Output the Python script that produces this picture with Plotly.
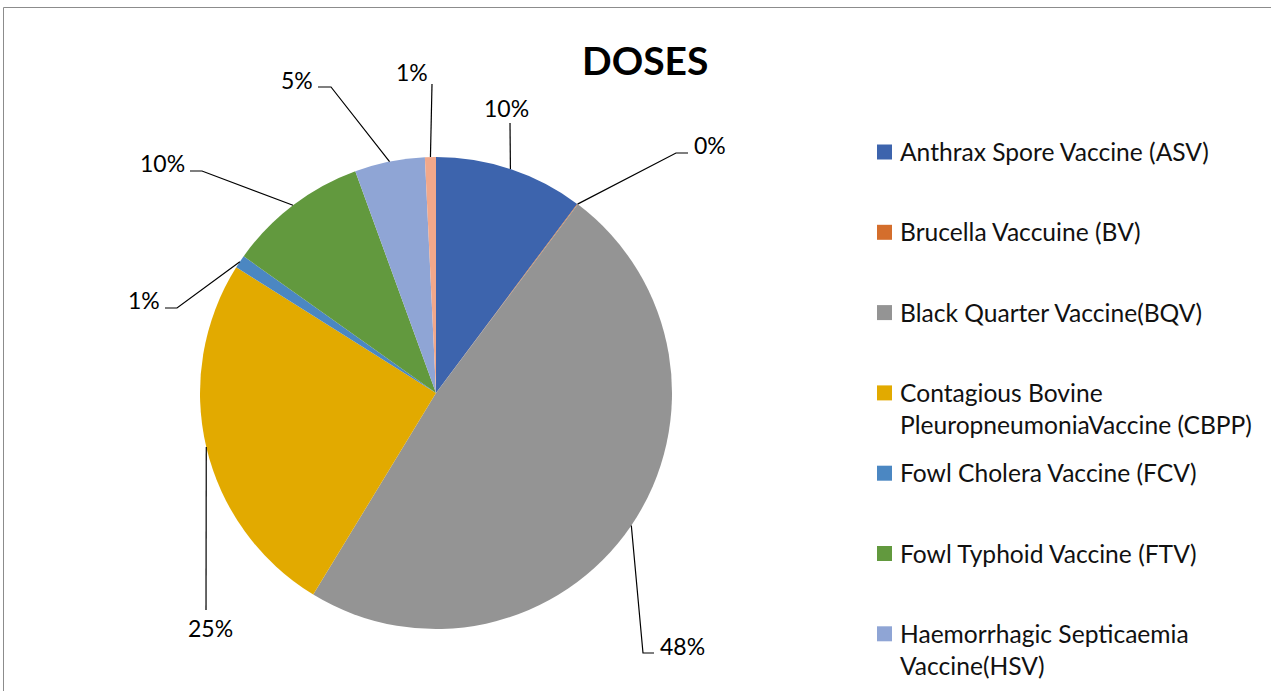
import math
import plotly.graph_objects as go

# ---------------- data ----------------
labels = [
    "Anthrax Spore Vaccine (ASV)",
    "Brucella Vaccuine (BV)",
    "Black Quarter Vaccine(BQV)",
    "Contagious Bovine<br>PleuropneumoniaVaccine (CBPP)",
    "Fowl Cholera Vaccine (FCV)",
    "Fowl Typhoid Vaccine (FTV)",
    "Haemorrhagic Septicaemia<br>Vaccine(HSV)",
    "Other Vaccine",
]
values = [10.2, 0.05, 48.4, 25.2, 0.9, 9.6, 4.8, 0.75]
colors = ["#3D64AD", "#D46E2C", "#949494", "#E2AA00", "#4B87C2",
          "#62993E", "#8FA5D5", "#F1A88B"]

# ---------------- layout constants ----------------
W, H = 1271, 691
CX, CY, R = 436, 393, 236            # pie centre / radius in px
FONT = "Lato"

def px(x, y):
    return x / W, 1 - y / H

total = sum(values)
pct = [v / total * 100 for v in values]
cum = 0
mid_angles = []
for v in values:
    mid_angles.append((cum + v / 2) / total * 2 * math.pi)
    cum += v

def edge(i):
    a = mid_angles[i]
    return CX + R * math.sin(a), CY - R * math.cos(a)

# label layout: (text x, text y, xanchor, elbow points after edge)
label_layout = [
    (506, 108, "center", [(510, 123)]),
    (692, 145, "left", [(676, 153), (688, 153)]),
    (658, 646, "left", [(643, 653), (654, 653)]),
    (210, 628, "center", [(206, 610)]),
    (162, 300, "right", [(177, 308), (165, 308)]),
    (187, 163, "right", [(202, 171), (190, 171)]),
    (315, 80, "right", [(331, 87), (318, 87)]),
    (412, 72, "center", [(432, 84)]),
]

dx0, dy1 = px(CX - R, CY - R)
dx1, dy0 = px(CX + R, CY + R)
fig = go.Figure(go.Pie(
    labels=labels,
    values=values,
    sort=False,
    direction="clockwise",
    rotation=0,
    marker=dict(colors=colors, line=dict(width=0)),
    textinfo="none",
    hoverinfo="label+percent",
    showlegend=False,
    domain=dict(x=[dx0, dx1], y=[dy0, dy1]),
))

annotations = []
shapes = []

# title
tx, ty = px(645, 60)
annotations.append(dict(x=tx, y=ty, xref="paper", yref="paper",
                        text="<b>DOSES</b>", showarrow=False,
                        font=dict(family=FONT, size=39, color="#000000"),
                        xanchor="center", yanchor="middle"))

# data labels with leader lines
for i, (lx, ly, anc, pts) in enumerate(label_layout):
    ex, ey = edge(i)
    path_pts = [(ex, ey)] + pts
    d = "M " + " L ".join(f"{px(x, y)[0]:.5f},{px(x, y)[1]:.5f}" for x, y in path_pts)
    shapes.append(dict(type="path", xref="paper", yref="paper", path=d,
                       line=dict(color="#000000", width=1.2)))
    ax_, ay_ = px(lx, ly)
    annotations.append(dict(x=ax_, y=ay_, xref="paper", yref="paper",
                            text=f"{round(pct[i]):.0f}%", showarrow=False,
                            font=dict(family=FONT, size=23, color="#000000"),
                            xanchor=anc, yanchor="middle"))

# manual legend (entries that fall below the chart area are cut off, as in the original)
LEG_X, LEG_Y0, LEG_DY = 877, 152, 80.3
for i, lab in enumerate(labels):
    yc = LEG_Y0 + i * LEG_DY
    if yc + 8 > H:
        continue
    x0, y0 = px(LEG_X, yc - 7.5)
    x1, y1 = px(LEG_X + 15, yc + 7.5)
    shapes.append(dict(type="rect", xref="paper", yref="paper",
                       x0=x0, x1=x1, y0=y1, y1=y0,
                       fillcolor=colors[i], line=dict(width=0)))
    lx_, ly_ = px(LEG_X + 21, yc - 17)
    annotations.append(dict(x=lx_, y=ly_, xref="paper", yref="paper",
                            text=lab, showarrow=False, align="left",
                            font=dict(family=FONT, size=24.6, color="#111111"),
                            xanchor="left", yanchor="top"))

# chart border (top and left edges visible)
bx0, by0 = px(3.5, 7.5)
shapes.append(dict(type="line", xref="paper", yref="paper",
                   x0=bx0, x1=1.0, y0=by0, y1=by0,
                   line=dict(color="#8c8c8c", width=1)))
shapes.append(dict(type="line", xref="paper", yref="paper",
                   x0=bx0, x1=bx0, y0=by0, y1=0.0,
                   line=dict(color="#8c8c8c", width=1)))

fig.update_layout(
    width=W, height=H,
    margin=dict(l=0, r=0, t=0, b=0),
    paper_bgcolor="white",
    plot_bgcolor="white",
    annotations=annotations,
    shapes=shapes,
    showlegend=False,
)

fig.write_html(
    "out.html",
    config={"displayModeBar": False},
    post_script="document.body.style.margin='0';document.body.style.overflow='hidden';",
)
